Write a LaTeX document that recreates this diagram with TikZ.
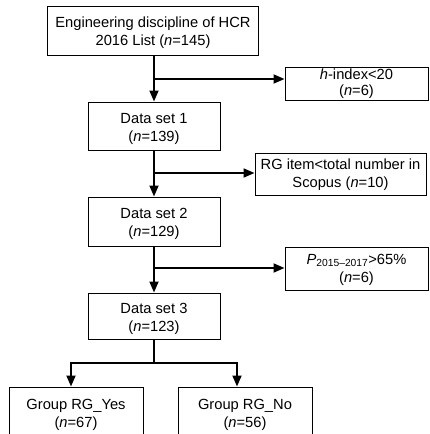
\documentclass[tikz,border=0pt]{standalone}
\usepackage{fontspec}
\setmainfont{Liberation Sans}
\usetikzlibrary{arrows.meta}
% box text of a fixed size: [shift]{width}{height}{text}
\newcommand{\cell}[4][5pt]{\parbox[c][#3][c]{#2}{\centering\vspace*{#1}#4}}
\tikzset{
	box/.style={draw, line width=1pt, inner sep=0pt, font=\fontsize{14.7}{18}\selectfont},
	link/.style={line width=1.8pt},
	tip/.style={-{Triangle[length=11pt,width=9pt]}},
}

\begin{document}
\begin{tikzpicture}[x=1pt,y=1pt]
		\clip (0,0) rectangle (430,-434);
		\node[box] (hcr) at (153,-30.5) {\cell{211pt}{49pt}{Engineering discipline of HCR\\2016 List (\textit{n}=145)}};
		\node[box] (ds1) at (154,-126) {\cell{132pt}{48pt}{Data set 1\\(\textit{n}=139)}};
		\node[box] (ds2) at (154,-221.5) {\cell{132pt}{49pt}{Data set 2\\(\textit{n}=129)}};
		\node[box] (ds3) at (154,-316) {\cell{132pt}{46pt}{Data set 3\\(\textit{n}=123)}};
		\node[box,font=\fontsize{14.7}{16}\selectfont] (hidx) at (356.5,-83.5) {\cell[1pt]{143pt}{33pt}{\textit{h}-index<20\\(\textit{n}=6)}};
		\node[box] (rg) at (340.5,-174) {\cell[2pt]{171pt}{42pt}{RG item<total number in\\Scopus (\textit{n}=10)}};
		\node[box] (pub) at (356.5,-268.5) {\cell[2pt]{143pt}{43pt}{\textit{P}\textsubscript{2015--2017}>65\%\\(\textit{n}=6)}};
		\node[box] (yes) at (76,-412) {\cell{134pt}{50pt}{Group RG\_Yes\\(\textit{n}=67)}};
		\node[box] (no) at (245,-412) {\cell{134pt}{50pt}{Group RG\_No\\(\textit{n}=56)}};
		% main column
		\draw[link,tip] (hcr.south -| ds1) -- (ds1.north);
		\draw[link,tip] (ds1.south) -- (ds2.north);
		\draw[link,tip] (ds2.south) -- (ds3.north);
		% exclusions
		\coordinate (b1) at (154,-79);
		\coordinate (b2) at (154,-173);
		\coordinate (b3) at (154,-268);
		\draw[link,tip] (b1) -- (hidx.west |- b1);
		\draw[link,tip] (b2) -- (rg.west |- b2);
		\draw[link,tip] (b3) -- (pub.west |- b3);
		% split into groups
		\coordinate (s) at (154,-363);
		\draw[link] (ds3.south) -- (s);
		\draw[link,tip] (s) -| ([xshift=-5pt]yes.north);
		\draw[link,tip] (s) -| ([xshift=-8pt]no.north);
	\end{tikzpicture}
\end{document}
